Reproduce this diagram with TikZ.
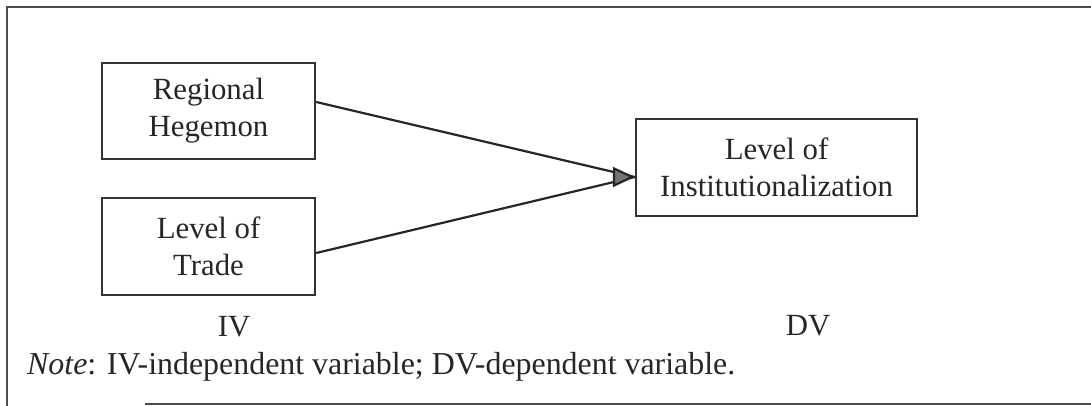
\documentclass[tikz,border=0pt]{standalone}
\usepackage{fontspec}
\setmainfont{Liberation Serif}
\usetikzlibrary{arrows.meta}
\begin{document}
\begin{tikzpicture}[x=1pt,y=-1pt,
  txt/.style={font=\fontsize{30.8}{37}\selectfont, text=black!85, inner sep=0pt},
  box/.style={txt, draw=black!80, line width=2.4pt, align=center},
  conn/.style={draw=black!85, line width=2.2pt},
  frame/.style={draw=black!70, line width=2.4pt}]
\useasboundingbox (0,0) rectangle (1091,406);
% outer frame (left, top, bottom)
\draw[frame] (1091,7) -- (7,7) -- (7,406);
\draw[frame] (145,404) -- (1091,404);
% boxes
\node[box, minimum width=213pt, minimum height=96pt] (rh) at (208.5,111) {Regional\\Hegemon};
\node[box, minimum width=213pt, minimum height=97pt] (lt) at (208.5,246.5) {Level of\\Trade};
\node[box, minimum width=281pt, minimum height=97pt] (li) at (776.5,167.5) {Level of\\Institutionalization};
% connectors
\coordinate (tip) at ([yshift=-9.5pt]li.west);
\coordinate (s1) at ([yshift=9pt]rh.east);
\coordinate (s2) at ([yshift=-6.5pt]lt.east);
\draw[conn] (s1) -- (tip);
\draw[conn] (s2) -- (tip);
\coordinate (tail) at ([xshift=-22pt]tip);
\draw[conn, -{Triangle[length=22pt,width=20pt,fill=black!55]}] (tail) -- (tip);
% labels
\node[txt] (iv) at (234,327) {IV};
\node[txt] (dv) at (808,326) {DV};
\node[txt, font=\fontsize{31.9}{37}\selectfont, anchor=base west] (note) at (27,374) {\textit{Note}: IV-independent variable; DV-dependent variable.};
\end{tikzpicture}
\end{document}
